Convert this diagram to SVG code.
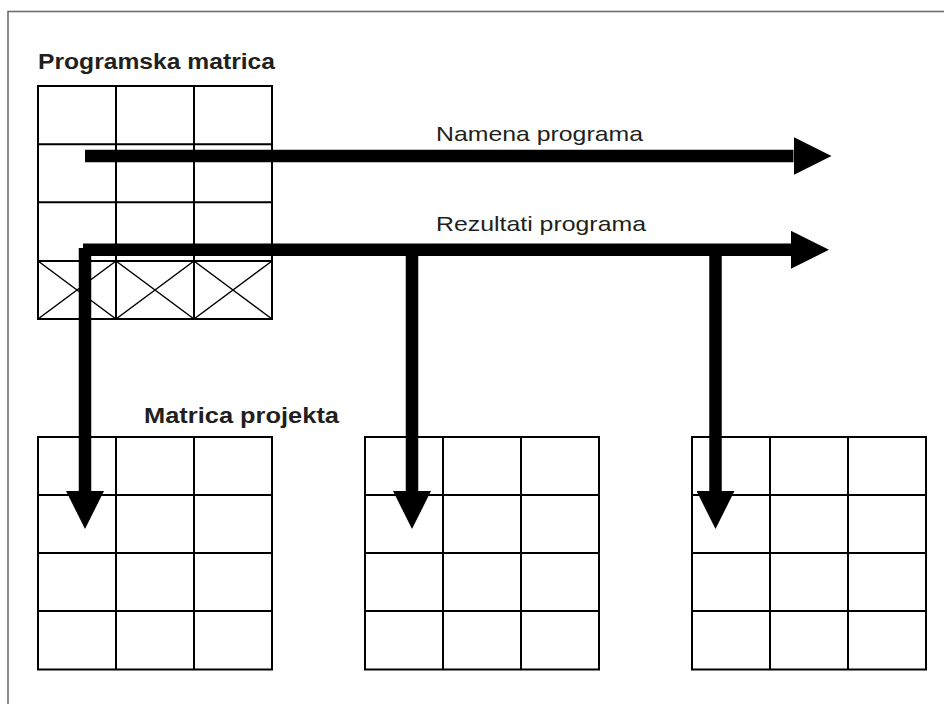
<svg xmlns="http://www.w3.org/2000/svg" width="944" height="704" viewBox="0 0 944 704">
<style>
.frame{fill:none;stroke:#6d6e71;stroke-width:1.6}
.grid{fill:none;stroke:#000;stroke-width:2}
.thin{fill:none;stroke:#000;stroke-width:1.5}
.bold{font-family:"Liberation Sans",Arial,sans-serif;font-weight:700;font-size:22px;fill:#231f20}
.reg{font-family:"Liberation Sans",Arial,sans-serif;font-size:21px;fill:#231f20}
.bar{fill:none;stroke:#000;stroke-width:12.5}
</style>
<defs>
<marker id="ah" viewBox="0 0 38 38" markerWidth="38" markerHeight="38" refX="0" refY="19" orient="auto" markerUnits="userSpaceOnUse">
<path d="M0,0 L38,19 L0,38 Z" fill="#000"/>
</marker>
</defs>
<rect class="frame" x="8" y="11.5" width="1000" height="800"/>

<g id="programska-matrica">
<text class="bold" x="38" y="69" textLength="237" lengthAdjust="spacingAndGlyphs">Programska matrica</text>
<path class="grid" d="M38,86 H272 V319 H38 Z M116,86 V319 M194,86 V319 M38,144.3 H272 M38,202.3 H272 M38,261 H272"/>
<path class="thin" d="M38,261 L116,319 M116,261 L38,319 M116,261 L194,319 M194,261 L116,319 M194,261 L272,319 M272,261 L194,319"/>
</g>

<g id="matrica-projekta-1">
<text class="bold" x="144" y="422.5" textLength="195" lengthAdjust="spacingAndGlyphs">Matrica projekta</text>
<path class="grid" d="M38,437 H272 V669.5 H38 Z M116,437 V669.5 M194,437 V669.5 M38,495 H272 M38,553 H272 M38,611 H272"/>
</g>

<g id="matrica-projekta-2">
<path class="grid" d="M365,437 H599 V669.5 H365 Z M443,437 V669.5 M521,437 V669.5 M365,495 H599 M365,553 H599 M365,611 H599"/>
</g>

<g id="matrica-projekta-3">
<path class="grid" d="M692,437 H926 V669.5 H692 Z M770,437 V669.5 M848,437 V669.5 M692,495 H926 M692,553 H926 M692,611 H926"/>
</g>

<g id="connectors">
<text class="reg" x="436" y="141" textLength="207" lengthAdjust="spacingAndGlyphs">Namena programa</text>
<path class="bar" d="M85,156 H793.5" marker-end="url(#ah)"/>
<text class="reg" x="436" y="231" textLength="210" lengthAdjust="spacingAndGlyphs">Rezultati programa</text>
<path class="bar" d="M83,249.8 H791" marker-end="url(#ah)"/>
<path class="bar" d="M85,248 V491" marker-end="url(#ah)"/>
<path class="bar" d="M412,256 V491" marker-end="url(#ah)"/>
<path class="bar" d="M715.5,256 V491" marker-end="url(#ah)"/>
</g>
</svg>
